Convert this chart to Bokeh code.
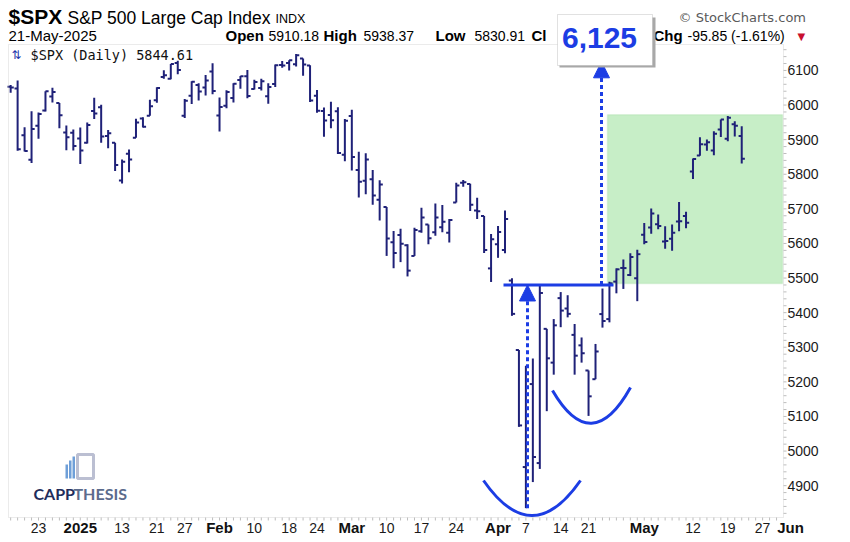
from bokeh.plotting import figure
from bokeh.models import (Range1d, Label, BoxAnnotation, Arrow, NormalHead, ColumnDataSource)
from bokeh.embed import file_html
from bokeh.resources import INLINE

# ---------------- data ----------------
dates = [
    "2024-12-17", "2024-12-18", "2024-12-19", "2024-12-20", "2024-12-23", "2024-12-24",
    "2024-12-26", "2024-12-27", "2024-12-30", "2024-12-31",
    "2025-01-02", "2025-01-03", "2025-01-06", "2025-01-07", "2025-01-08", "2025-01-10",
    "2025-01-13", "2025-01-14", "2025-01-15", "2025-01-16", "2025-01-17", "2025-01-21",
    "2025-01-22", "2025-01-23", "2025-01-24", "2025-01-27", "2025-01-28", "2025-01-29",
    "2025-01-30", "2025-01-31",
    "2025-02-03", "2025-02-04", "2025-02-05", "2025-02-06", "2025-02-07", "2025-02-10",
    "2025-02-11", "2025-02-12", "2025-02-13", "2025-02-14", "2025-02-18", "2025-02-19",
    "2025-02-20", "2025-02-21", "2025-02-24", "2025-02-25", "2025-02-26", "2025-02-27",
    "2025-02-28",
    "2025-03-03", "2025-03-04", "2025-03-05", "2025-03-06", "2025-03-07", "2025-03-10",
    "2025-03-11", "2025-03-12", "2025-03-13", "2025-03-14", "2025-03-17", "2025-03-18",
    "2025-03-19", "2025-03-20", "2025-03-21", "2025-03-24", "2025-03-25", "2025-03-26",
    "2025-03-27", "2025-03-28", "2025-03-31",
    "2025-04-01", "2025-04-02", "2025-04-03", "2025-04-04", "2025-04-07", "2025-04-08",
    "2025-04-09", "2025-04-10", "2025-04-11", "2025-04-14", "2025-04-15", "2025-04-16",
    "2025-04-17", "2025-04-21", "2025-04-22", "2025-04-23", "2025-04-24", "2025-04-25",
    "2025-04-28", "2025-04-29", "2025-04-30",
    "2025-05-01", "2025-05-02", "2025-05-05", "2025-05-06", "2025-05-07", "2025-05-08",
    "2025-05-09", "2025-05-12", "2025-05-13", "2025-05-14", "2025-05-15", "2025-05-16",
    "2025-05-19", "2025-05-20", "2025-05-21",
]
opens = [
    6052.6, 6047.7, 5912.7, 5842.0, 5940.3, 5984.6, 6025.0, 6006.2, 5920.7, 5919.7,
    5903.3, 5891.1, 5982.8, 5993.3, 5910.7, 5890.7, 5782.2, 5859.6, 5905.2, 5961.4,
    5969.0, 6014.1, 6081.4, 6076.3, 6121.4, 5969.0, 6027.0, 6057.7, 6050.8, 6096.8,
    5969.7, 5998.1, 6020.5, 6072.2, 6083.1, 6046.4, 6049.3, 6025.1, 6060.6, 6115.5,
    6121.6, 6117.8, 6134.5, 6114.1, 6026.7, 5982.7, 5970.9, 5981.9, 5856.7,
    5968.3, 5812.0, 5781.4, 5785.9, 5726.0, 5705.4, 5603.7, 5624.8, 5594.5, 5563.9,
    5635.6, 5654.5, 5632.4, 5646.9, 5630.7, 5718.1, 5775.1, 5771.7, 5695.6, 5679.1, 5527.9,
    5597.5, 5580.8, 5492.7, 5292.1, 4953.8, 5193.6, 4965.3, 5353.2, 5255.6, 5442.0,
    5412.0, 5335.8, 5305.5, 5232.9, 5207.7, 5395.9, 5381.4, 5489.7, 5529.2, 5508.9, 5499.4,
    5625.1, 5646.0, 5655.3, 5605.9, 5613.3, 5663.5, 5679.6, 5807.8, 5854.2, 5886.3,
    5869.0, 5929.2, 5902.9, 5944.7, 5910.2,
]
highs = [
    6057.7, 6070.7, 5935.5, 5982.1, 5978.3, 6040.1, 6049.8, 6006.2, 5940.8, 5929.7,
    5935.1, 5949.3, 6021.0, 6000.7, 5927.9, 5890.7, 5842.5, 5871.9, 5960.6, 5964.7,
    6015.0, 6051.5, 6100.8, 6118.7, 6128.2, 6017.2, 6069.1, 6062.8, 6086.6, 6120.9,
    6022.1, 6042.5, 6062.9, 6084.0, 6101.3, 6073.4, 6076.3, 6063.2, 6116.9, 6127.5,
    6129.6, 6147.4, 6134.5, 6114.8, 6043.7, 5992.7, 6009.8, 5993.7, 5959.4,
    5986.1, 5865.1, 5860.6, 5812.1, 5783.0, 5705.4, 5636.3, 5642.2, 5597.8, 5645.3,
    5703.5, 5654.5, 5715.3, 5711.2, 5670.8, 5775.1, 5783.5, 5772.4, 5732.3, 5679.1, 5627.6,
    5650.6, 5695.3, 5499.5, 5292.1, 5246.6, 5267.5, 5481.3, 5353.2, 5381.5, 5459.5,
    5450.4, 5367.2, 5328.3, 5232.9, 5309.6, 5469.7, 5489.4, 5528.1, 5553.7, 5572.0, 5581.8,
    5658.9, 5700.7, 5683.5, 5649.5, 5655.0, 5720.1, 5691.7, 5845.6, 5906.6, 5900.4,
    5924.2, 5958.6, 5968.6, 5953.1, 5938.4,
]
lows = [
    6035.2, 5867.8, 5866.1, 5832.3, 5902.6, 5981.4, 6007.4, 5933.0, 5869.2, 5868.9,
    5829.5, 5888.7, 5960.0, 5890.7, 5874.8, 5809.6, 5773.3, 5805.9, 5905.2, 5935.0,
    5969.0, 6006.9, 6076.1, 6074.7, 6088.7, 5962.9, 6003.0, 6013.0, 6027.5, 6030.9,
    5923.9, 5990.9, 6007.1, 6046.8, 6020.0, 6044.8, 6042.3, 6004.0, 6052.0, 6107.6,
    6099.5, 6111.2, 6084.6, 6008.6, 5977.8, 5908.5, 5932.7, 5858.8, 5837.7,
    5810.9, 5732.6, 5742.4, 5711.6, 5666.3, 5564.0, 5528.4, 5546.1, 5504.7, 5563.9,
    5631.1, 5597.8, 5622.2, 5632.3, 5603.1, 5718.1, 5763.6, 5694.1, 5670.9, 5572.4, 5488.7,
    5558.5, 5571.5, 5390.8, 5069.9, 4835.0, 4910.4, 4948.4, 5115.3, 5220.8, 5358.0,
    5386.4, 5220.8, 5255.6, 5101.6, 5207.7, 5356.8, 5372.0, 5455.9, 5468.6, 5505.7, 5433.2,
    5597.4, 5628.0, 5641.0, 5585.0, 5578.6, 5635.2, 5644.0, 5786.1, 5853.3, 5867.8,
    5855.0, 5907.4, 5895.7, 5909.3, 5830.9,
]
closes = [
    6050.6, 5872.2, 5867.1, 5930.9, 5974.1, 6040.0, 6037.6, 5970.8, 5906.9, 5881.6,
    5868.6, 5942.5, 5975.4, 5909.0, 5918.3, 5827.0, 5836.2, 5842.9, 5949.9, 5937.3,
    5996.7, 6049.2, 6086.4, 6118.7, 6101.2, 6012.3, 6067.7, 6039.3, 6071.2, 6040.5,
    5994.6, 6037.9, 6061.5, 6083.6, 6026.0, 6066.4, 6068.5, 6052.0, 6115.1, 6114.6,
    6129.6, 6144.2, 6117.5, 6013.1, 5983.3, 5955.3, 5956.1, 5861.6, 5954.5,
    5849.7, 5778.2, 5842.6, 5738.5, 5770.2, 5614.6, 5572.1, 5599.3, 5521.5, 5638.9,
    5675.1, 5614.7, 5675.3, 5662.9, 5667.6, 5767.6, 5776.7, 5712.2, 5693.3, 5580.9, 5611.9,
    5633.1, 5671.0, 5396.5, 5074.1, 5062.3, 4982.8, 5456.9, 5268.1, 5363.4, 5406.0,
    5396.6, 5275.7, 5282.7, 5158.2, 5287.8, 5375.9, 5484.8, 5525.2, 5528.8, 5560.8, 5569.1,
    5604.1, 5686.7, 5650.4, 5606.9, 5631.3, 5663.9, 5659.9, 5844.2, 5886.6, 5892.6,
    5916.9, 5958.4, 5963.6, 5940.5, 5844.6,
]
future_dates = ["2025-05-22", "2025-05-23", "2025-05-27", "2025-05-28",
                "2025-05-29", "2025-05-30", "2025-06-02"]
tick_dates = ["2024-12-23", "2025-01-02", "2025-01-13", "2025-01-21", "2025-01-27",
              "2025-02-03", "2025-02-10", "2025-02-18", "2025-02-24", "2025-03-03",
              "2025-03-10", "2025-03-17", "2025-03-24", "2025-04-01", "2025-04-07",
              "2025-04-14", "2025-04-21", "2025-05-01", "2025-05-12", "2025-05-19",
              "2025-05-27", "2025-06-02"]
tick_labels = ["23", "2025", "13", "21", "27", "Feb", "10", "18", "24", "Mar", "10",
               "17", "24", "Apr", "7", "14", "21", "May", "12", "19", "27", "Jun"]
month_labels = ["2025", "Feb", "Mar", "Apr", "May", "Jun"]
y_ticks = [4900, 5000, 5100, 5200, 5300, 5400, 5500, 5600, 5700, 5800, 5900, 6000, 6100]

# pattern annotation levels
neckline = 5480
cup_low = 4835
target = 6125
zone_bottom, zone_top = 5484, 5972

# ---------------- layout ----------------
W, H = 850, 542
FL, FR, FT, FB = 8, 783, 44, 517          # price-panel box in page px
XV = (-0.31, 111.0)                        # visible x extent of the price panel
YV = (4808.0, 6175.0)                      # visible price extent of the price panel
SX = (FR - FL) / (XV[1] - XV[0])           # px per trading day
SY = (FB - FT) / (YV[1] - YV[0])           # px per index point
XR = (XV[0] - FL / SX, XV[1] + (W - FR) / SX)
YR = (YV[0] - (H - FB) / SY, YV[1] + FT / SY)
NAVY = "#1f2178"
BLUE = "#1c3de4"
GRAY = "#bdbdbd"
FONT = "Liberation Sans"


def px2x(px):
    return XR[0] + px / SX


def py2y(py):
    return YR[1] - py / SY


calendar = dates + future_dates
xs = list(range(len(dates)))
tick_pos = [calendar.index(d) for d in tick_dates]

p = figure(width=W, height=H, x_range=Range1d(*XR), y_range=Range1d(*YR),
           output_backend="svg", toolbar_location=None,
           x_axis_location=None, y_axis_location=None,
           min_border_left=0, min_border_right=0, min_border_top=0, min_border_bottom=0)
p.xgrid.visible = False
p.ygrid.visible = False
p.outline_line_color = None
p.background_fill_color = "white"
p.border_fill_color = "white"

# target zone
p.add_layout(BoxAnnotation(left=px2x(607), right=px2x(782), bottom=zone_bottom, top=zone_top,
                           fill_color="#c7eec7", fill_alpha=1.0, line_color="#a3daa3",
                           line_width=1.5, level="underlay"))

# price panel border
p.add_layout(BoxAnnotation(left=XV[0], right=XV[1], bottom=YV[0], top=YV[1],
                           fill_alpha=0.0, line_color=GRAY, line_width=1))

# OHLC bars
tick_w = 0.45
src = ColumnDataSource(dict(x=xs, o=opens, h=highs, l=lows, c=closes,
                            xl=[x - tick_w for x in xs], xr=[x + tick_w for x in xs]))
p.segment(x0="x", y0="l", x1="x", y1="h", source=src, line_width=2, line_color=NAVY)
p.segment(x0="xl", y0="o", x1="x", y1="o", source=src, line_width=2, line_color=NAVY)
p.segment(x0="x", y0="c", x1="xr", y1="c", source=src, line_width=2, line_color=NAVY)

# neckline
p.segment(x0=[px2x(503)], y0=[neckline], x1=[px2x(613)], y1=[neckline],
          line_width=3, line_color=BLUE)

# cups
p.quadratic(x0=[px2x(483), px2x(552)], y0=[py2y(480), py2y(390)],
            x1=[px2x(580), px2x(630)], y1=[py2y(480), py2y(387)],
            cx=[px2x(531.5), px2x(591)], cy=[py2y(550), py2y(457)],
            line_width=3, line_color=BLUE)

# measured-move arrows
p.add_layout(Arrow(end=NormalHead(size=16, fill_color=BLUE, line_color=BLUE, line_width=1),
                   x_start=px2x(527), y_start=cup_low, x_end=px2x(527), y_end=neckline,
                   line_color=BLUE, line_width=3, line_dash="4 3"))
p.add_layout(Arrow(end=NormalHead(size=16, fill_color=BLUE, line_color=BLUE, line_width=1),
                   x_start=px2x(601), y_start=neckline, x_end=px2x(601), y_end=target,
                   line_color=BLUE, line_width=3, line_dash="4 3"))

# axis ticks (price scale on the right, trading days below)
minor_y = [v for v in range(4820, 6175, 20)]
p.segment(x0=[XV[1]] * len(minor_y), x1=[XV[1] + 3 / SX] * len(minor_y),
          y0=minor_y, y1=minor_y, line_width=1, line_color=GRAY)
minor_x = [i for i in range(0, len(calendar)) if XV[0] < i < XV[1]]
p.segment(x0=minor_x, x1=minor_x, y0=[YV[0]] * len(minor_x),
          y1=[YV[0] - 3 / SY] * len(minor_x), line_width=1, line_color=GRAY)


def txt(px, py, s, size, bold=False, color="#111111", font=FONT, align="left",
        x=None, y=None):
    p.add_layout(Label(x=px2x(px) if x is None else x, y=py2y(py) if y is None else y,
                       text=s, text_font=font, text_font_size=f"{size}px",
                       text_font_style="bold" if bold else "normal",
                       text_color=color, text_align=align, text_baseline="middle"))


# price labels
for v in y_ticks:
    txt(787, 0, f"{v}", 14, color="#1a1a1a", y=v)

# date labels
for t, lab in zip(tick_pos, tick_labels):
    if lab in month_labels:
        txt(0, 527, lab, 15, bold=True, color="#111111", align="center", x=t)
    else:
        txt(0, 527, lab, 14, color="#1a1a1a", align="center", x=t)

# header
txt(8, 16, "$SPX", 21, bold=True, color="#000000")
txt(67, 17, "S&P 500 Large Cap Index", 17.5, color="#000000")
txt(275, 18.5, "INDX", 12.5, color="#000000")
txt(8, 35, "21-May-2025", 15, color="#000000")
txt(225, 35, "Open", 15, bold=True, color="#000000")
txt(268, 35, "5910.18", 14, color="#000000")
txt(323, 35, "High", 15, bold=True, color="#000000")
txt(363, 35, "5938.37", 14, color="#000000")
txt(435, 35, "Low", 15, bold=True, color="#000000")
txt(474, 35, "5830.91", 14, color="#000000")
txt(531, 35, "Cl", 15, bold=True, color="#000000")
txt(653, 35, "Chg", 15, bold=True, color="#000000")
txt(687, 35, "-95.85 (-1.61%)", 14, color="#000000")
txt(797, 36, "\u25BC", 10, color="#c8102e", font="DejaVu Sans")
txt(678, 17, "\u00A9 StockCharts.com", 13, color="#5a5a5a", font="DejaVu Sans")

# in-chart legend
txt(11, 54, "\u21C5", 12, color="#2233aa", font="DejaVu Sans")
txt(30, 54, "$SPX (Daily) 5844.61", 13.5, color="#111111", font="DejaVu Sans Mono")

# target box with shadow
p.add_layout(BoxAnnotation(left=px2x(559), right=px2x(655), top=py2y(17), bottom=py2y(67),
                           fill_color="#a8a8a8", fill_alpha=1.0, line_alpha=0.0))
p.add_layout(BoxAnnotation(left=px2x(557), right=px2x(652), top=py2y(14), bottom=py2y(65),
                           fill_color="white", fill_alpha=1.0, line_color="#9a9a9a",
                           line_width=1))
txt(599, 37, f"{target:,}", 30, bold=True, color=BLUE, align="center")

# logo
for (l, r, t) in [(65, 67.5, 464), (68.5, 71, 460), (72, 74.5, 456)]:
    p.add_layout(BoxAnnotation(left=px2x(l), right=px2x(r), top=py2y(t), bottom=py2y(478),
                               fill_color="#6f9fd8", fill_alpha=1.0, line_alpha=0))
p.add_layout(BoxAnnotation(left=px2x(77), right=px2x(93), top=py2y(454), bottom=py2y(478),
                           fill_color="white", fill_alpha=1.0, line_color="#1d2a6b",
                           line_width=3))
p.line(x=[px2x(81), px2x(84), px2x(87), px2x(90)], y=[py2y(472), py2y(466), py2y(469), py2y(461)],
       line_width=2, line_color="#1d2a6b")
txt(33, 493, "CAPP", 16, bold=True, color="#1f2d5c", font="Lato")
txt(73, 493, "THESIS", 16, bold=True, color="#5b6b8c", font="Lato")

open("out.html", "w").write(file_html(p, INLINE))
